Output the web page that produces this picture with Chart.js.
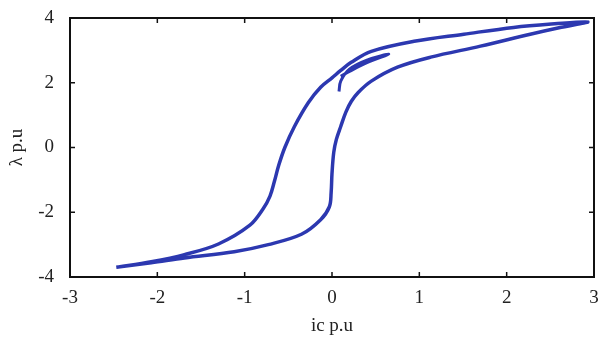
<!DOCTYPE html>
<html>
<head>
<meta charset="utf-8">
<script src="https://cdn.jsdelivr.net/npm/chart.js@4.4.0/dist/chart.umd.min.js"></script>
<style>
html,body{margin:0;padding:0;background:#fff;}
#wrap{width:600px;height:342px;}
</style>
</head>
<body>
<div id="wrap"><canvas id="c" width="600" height="342"></canvas></div>
<script>
// Main hysteresis loop (ic p.u, λ p.u)
const loopX = [-2.47,-2.07,-1.69,-1.12,-0.73,-0.35,-0.13,-0.03,-0.01,0.00,0.02,0.05,0.10,0.16,0.22,0.30,0.45,0.75,1.13,1.70,2.27,2.60,2.93,
               2.55,2.08,1.51,0.94,0.45,0.22,0.10,0.00,-0.13,-0.27,-0.43,-0.54,-0.61,-0.66,-0.71,-0.79,-0.94,-1.30,-1.69,-2.07,-2.47];
const loopY = [-3.70,-3.56,-3.41,-3.22,-3.00,-2.68,-2.23,-1.83,-1.40,-0.80,-0.15,0.25,0.65,1.10,1.42,1.70,2.05,2.48,2.79,3.13,3.50,3.70,3.88,
               3.82,3.71,3.50,3.28,2.97,2.63,2.38,2.15,1.86,1.39,0.65,0.00,-0.55,-1.05,-1.50,-1.90,-2.40,-2.98,-3.31,-3.53,-3.70];
// Minor loop
const minorX = [0.08,0.10,0.20,0.40,0.65,0.40,0.20,0.10];
const minorY = [1.73,2.05,2.42,2.70,2.88,2.62,2.35,2.20];
// Axes
const xTicks = [-3,-2,-1,0,1,2,3];
const yTicks = [-4,-2,0,2,4];

const toPts = (xs, ys) => xs.map((x, i) => ({x: x, y: ys[i]}));
const lineColor = 'rgb(44,56,176)';
const fontFam = '"Liberation Serif", "DejaVu Serif", serif';

const boxPlugin = {
  id: 'boxTicks',
  afterDraw(chart) {
    const {ctx, chartArea: a, scales} = chart;
    ctx.save();
    ctx.strokeStyle = '#111';
    ctx.lineWidth = 2;
    ctx.strokeRect(a.left, a.top, a.right - a.left, a.bottom - a.top);
    ctx.lineWidth = 1.5;
    const L = 5;
    ctx.beginPath();
    xTicks.forEach(v => {
      const px = scales.x.getPixelForValue(v);
      ctx.moveTo(px, a.bottom); ctx.lineTo(px, a.bottom - L);
      ctx.moveTo(px, a.top); ctx.lineTo(px, a.top + L);
    });
    yTicks.forEach(v => {
      const py = scales.y.getPixelForValue(v);
      ctx.moveTo(a.left, py); ctx.lineTo(a.left + L, py);
      ctx.moveTo(a.right, py); ctx.lineTo(a.right - L, py);
    });
    ctx.stroke();
    ctx.restore();
  }
};

new Chart(document.getElementById('c'), {
  type: 'scatter',
  data: {
    datasets: [
      {data: toPts(loopX, loopY), showLine: true, borderColor: lineColor, borderWidth: 3.5, pointRadius: 0, tension: 0.35, fill: false},
      {data: toPts(minorX, minorY), showLine: true, borderColor: lineColor, borderWidth: 3, pointRadius: 0, tension: 0.35, fill: false}
    ]
  },
  options: {
    responsive: false,
    animation: false,
    layout: {padding: {top: 18, right: 6, left: 0, bottom: 0}},
    plugins: {legend: {display: false}, tooltip: {enabled: false}},
    scales: {
      x: {
        type: 'linear', min: -3, max: 3,
        afterBuildTicks: s => { s.ticks = xTicks.map(v => ({value: v})); },
        afterFit: s => { s.height = 65; s.paddingLeft = 0; s.paddingRight = 0; },
        grid: {display: false, drawTicks: false},
        border: {display: false},
        ticks: {color: '#222', font: {family: fontFam, size: 19}, padding: 10, maxRotation: 0},
        title: {display: true, text: 'ic p.u', color: '#222', font: {family: fontFam, size: 19}, padding: {top: 2, bottom: 5}}
      },
      y: {
        type: 'linear', min: -4, max: 4,
        afterBuildTicks: s => { s.ticks = yTicks.map(v => ({value: v})); },
        afterFit: s => { s.width = 70; s.paddingTop = 0; s.paddingBottom = 0; },
        grid: {display: false, drawTicks: false},
        border: {display: false},
        ticks: {color: '#222', font: {family: fontFam, size: 19}, padding: 16},
        title: {display: true, text: 'λ p.u', color: '#222', font: {family: fontFam, size: 19}, padding: {top: 6, bottom: 0}}
      }
    }
  },
  plugins: [boxPlugin]
});
</script>
</body>
</html>
